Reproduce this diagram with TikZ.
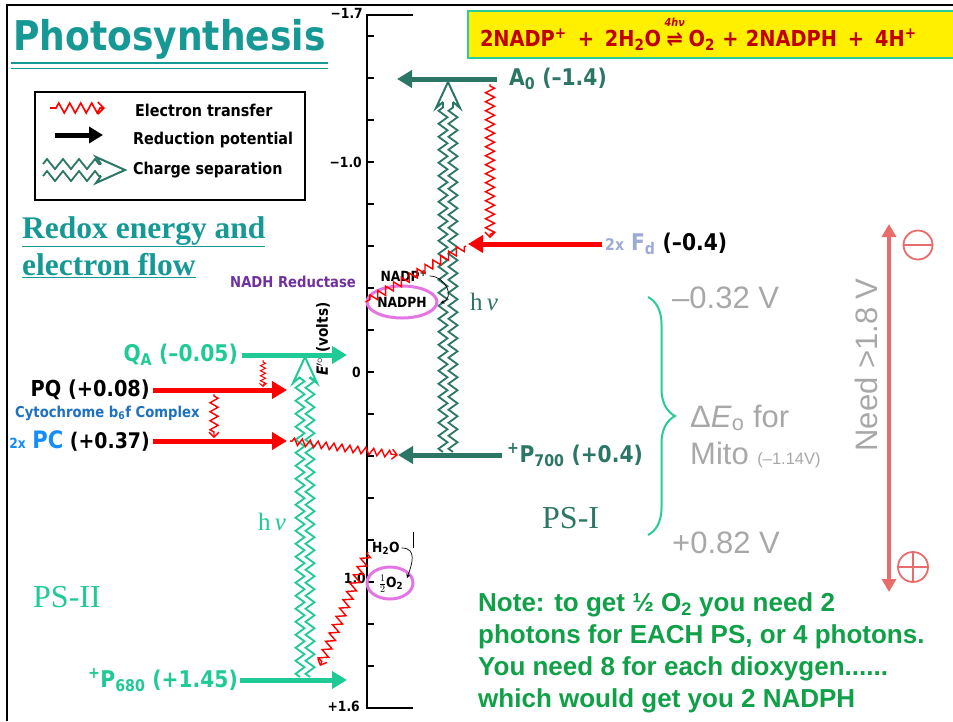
\documentclass[tikz,border=0pt]{standalone}
\usepackage{fontspec}
\setmainfont{Liberation Serif}
\setsansfont{Liberation Sans}
\newfontfamily\lucida[FakeStretch=0.88]{DejaVu Sans}
\usepackage{tikz}
\usetikzlibrary{positioning,arrows.meta,decorations.pathmorphing,decorations.pathreplacing,shapes.geometric,calc}

\definecolor{titleteal}{RGB}{22,152,148}
\definecolor{psone}{RGB}{44,118,102}
\definecolor{pstwo}{RGB}{32,202,150}
\definecolor{bracegreen}{RGB}{40,204,150}
\definecolor{eqred}{RGB}{192,0,0}
\definecolor{eqyellow}{RGB}{255,240,0}
\definecolor{ellmag}{RGB}{228,118,228}
\definecolor{nadhpurple}{RGB}{112,48,160}
\definecolor{cytblue}{RGB}{30,112,192}
\definecolor{pcblue}{RGB}{20,140,250}
\definecolor{fdblue}{RGB}{158,170,214}
\definecolor{mitogray}{RGB}{168,168,168}
\definecolor{needred}{RGB}{232,108,108}
\definecolor{notegreen}{RGB}{16,160,72}

\begin{document}
\begin{tikzpicture}[x=1pt,y=-1pt,>={Stealth[length=5pt]},
  lbl/.style={font=\lucida\bfseries\fontsize{23}{23}\selectfont,inner sep=0pt},
  smalllbl/.style={font=\lucida\bfseries\fontsize{15}{15}\selectfont,inner sep=0pt},
  leglbl/.style={font=\lucida\bfseries\fontsize{16.3}{16.3}\selectfont,inner sep=0pt,anchor=west},
  chem/.style={font=\lucida\bfseries\fontsize{14}{14}\selectfont,inner sep=0pt},
  axlbl/.style={font=\lucida\bfseries\fontsize{14}{14}\selectfont,inner sep=0pt,anchor=east},
  mitotxt/.style={font=\sffamily\fontsize{31}{37}\selectfont,text=mitogray,inner sep=0pt,anchor=west},
  serif/.style={font=\fontsize{32}{32}\selectfont,inner sep=0pt,anchor=base west},
  redpot/.style={line width=5pt,-{Triangle[length=15pt,width=17pt]}},
  etrans/.style={red,line width=1.4pt,decorate,
    decoration={zigzag,segment length=8pt,amplitude=3.5pt,pre length=2pt,post length=3pt},
    -{Straight Barb[length=5pt,width=10pt]}},
  chsep/.style={line width=1.8pt,decorate,decoration={zigzag,segment length=13pt,amplitude=4.5pt}},
  ellred/.style={ellipse,draw=ellmag,line width=3pt,inner sep=0pt},
]
\useasboundingbox (0,0) rectangle (953,721);
\draw[line width=2pt] (7,721) -- (7,5) -- (953,5);

% title and headings
\node (title) [anchor=base west,inner sep=0pt,text=titleteal,font=\lucida\bfseries\fontsize{41}{41}\selectfont] at (13,50) {Photosynthesis};
\draw[titleteal,line width=2.5pt] (11,63) -- (328,63);
\draw[titleteal,line width=1.2pt] (11,68.5) -- (328,68.5);
\node (redox) [anchor=base west,inner sep=0pt,text=titleteal,font=\bfseries\fontsize{31.5}{31.5}\selectfont] at (22,238) {\underline{Redox energy and}};
\node (flow) [anchor=base west,inner sep=0pt,text=titleteal,font=\bfseries\fontsize{31.5}{31.5}\selectfont] at (22,275) {\underline{electron flow}};

\node (eqn) [anchor=west,fill=eqyellow,draw=bracegreen,line width=2pt,minimum height=47pt,text width=478pt,inner xsep=12pt,text=eqred,font=\lucida\bfseries\fontsize{22}{22}\selectfont] at (467,34)
  {2NADP\textsuperscript{+} \,+\, 2H\textsubscript{2}O\,$\stackrel{\raisebox{4pt}{\mbox{\fontsize{11}{11}\selectfont\itshape 4hν}}}{\mbox{⇌}}$\,O\textsubscript{2} + 2NADPH \,+\, 4H\textsuperscript{+}};

% legend
\draw[line width=2pt] (35,92) rectangle (305,200);
\coordinate (lg1a) at (50,108); \coordinate (lg1b) at (105,108);
\draw[etrans,line width=1.6pt,decoration={zigzag,segment length=11pt,amplitude=5pt,pre length=6pt,post length=4pt},-{Straight Barb[length=6pt,width=12pt]}] (lg1a) -- (lg1b);
\node (lgt1) [leglbl] at (135,110) {Electron transfer};
\coordinate (lg2a) at (55,135); \coordinate (lg2b) at (103,135);
\draw[line width=5pt,-{Triangle[length=14pt,width=16pt]}] (lg2a) -- (lg2b);
\node (lgt2) [leglbl] at (133,140) {Reduction potential};
\coordinate (lg3) at (125,170);
\draw[chsep,psone,decoration={zigzag,segment length=16pt,amplitude=5pt}] (43,164) -- ($(lg3)+(-24,-6)$);
\draw[chsep,psone,decoration={zigzag,segment length=16pt,amplitude=5pt}] (43,176) -- ($(lg3)+(-24,6)$);
\draw[psone,line width=2pt] ($(lg3)+(-24,-6)$) -- ($(lg3)+(-29,-13)$) -- (lg3) -- ($(lg3)+(-29,13)$) -- ($(lg3)+(-24,6)$);
\node (lgt3) [leglbl] at (133,170) {Charge separation};

% potential axis
\draw[line width=1.3pt] (413,15) -- (367,15) -- (367,708) -- (413,708);
\foreach \k in {0,...,15} \draw[line width=1.1pt] (367,{36+42*\k}) -- ++(7,0);
\draw[line width=0.8pt] (413,532) -- (413,548);
\node (tm17) [axlbl] at (363,13) {−1.7};
\node (tm10) [axlbl] at (362,162) {−1.0};
\node (t0) [axlbl] at (361,372) {0};
\node (tp10) [axlbl] at (366,578) {1.0};
\node (tp16) [axlbl] at (360,706) {+1.6};
\node (evolt) [rotate=90,inner sep=0pt,font=\lucida\bfseries\fontsize{15.5}{15.5}\selectfont] at (323,339) {\textit{E}$'^{\circ}$ (volts)};

% photosystem I
\coordinate (a0t) at (497,79); \coordinate (a0h) at (397,79);
\draw[redpot,psone] (a0t) -- (a0h);
\node (a0) [lbl,text=psone,right=12pt of a0t] {A\textsubscript{0} (–1.4)};
\coordinate (p7t) at (502,455); \coordinate (p7h) at (398,455);
\draw[redpot,psone] (p7t) -- (p7h);
\node (p700) [lbl,text=psone,right=5pt of p7t] {\textsuperscript{+}P\textsubscript{700} (+0.4)};
\coordinate (cs1b) at (448,452); \coordinate (cs1t) at (448,82);
\draw[chsep,psone] ($(cs1b)+(-5,0)$) -- ($(cs1t)+(-5,20)$);
\draw[chsep,psone] ($(cs1b)+(5,0)$) -- ($(cs1t)+(5,20)$);
\draw[psone,line width=2pt] ($(cs1t)+(-5,20)$) -- ($(cs1t)+(-12,26)$) -- (cs1t) -- ($(cs1t)+(12,26)$) -- ($(cs1t)+(5,20)$);
\node (hv1) [serif,text=psone,font=\fontsize{25}{25}\selectfont] at (470,310) {h\,\textit{ν}};
\node (ps1) [serif,text=psone] at (542,528) {PS-I};

\coordinate (fdt) at (602,244); \coordinate (fdh) at (468,244);
\draw[redpot,red] (fdt) -- (fdh);
\node (fd) [lbl,right=3pt of fdt] {\textcolor{fdblue}{{\fontsize{16}{16}\selectfont 2x} F\textsubscript{d}} (–0.4)};
\coordinate (e1a) at (490,84); \coordinate (e1b) at (490,238);
\draw[etrans,decoration={zigzag,segment length=9pt,amplitude=4.5pt,pre length=2pt,post length=3pt}] (e1a) -- (e1b);

\node (nadph) [ellred,chem,minimum width=64pt,minimum height=32pt] at (402,302) {NADPH};
\node (nadp) [chem] at (404,276) {NADP\textsuperscript{+}};
\node (nadhr) [smalllbl,text=nadhpurple,anchor=west] at (230,282) {NADH Reductase};
\coordinate (e2a) at (466,246);
\draw[etrans,-,decoration={zigzag,segment length=9pt,amplitude=4pt}] (e2a) -- (nadph.west);
\draw[line width=0.7pt,-{Stealth[length=4pt,width=4pt]}] ($(nadp.east)+(2,0)$) to[out=0,in=20,looseness=1.4] ($(nadph.east)+(2,1)$);

% photosystem II
\coordinate (qat) at (242,355); \coordinate (qah) at (347,355);
\draw[redpot,pstwo] (qat) -- (qah);
\node (qa) [lbl,text=pstwo,left=4pt of qat] {Q\textsubscript{A} (–0.05)};
\coordinate (p6t) at (240,680); \coordinate (p6h) at (347,680);
\draw[redpot,pstwo] (p6t) -- (p6h);
\node (p680) [lbl,text=pstwo,left=2pt of p6t] {\textsuperscript{+}P\textsubscript{680} (+1.45)};
\coordinate (cs2b) at (305,677); \coordinate (cs2t) at (305,357);
\draw[chsep,pstwo] ($(cs2b)+(-5,0)$) -- ($(cs2t)+(-5,20)$);
\draw[chsep,pstwo] ($(cs2b)+(5,0)$) -- ($(cs2t)+(5,20)$);
\draw[pstwo,line width=2pt] ($(cs2t)+(-5,20)$) -- ($(cs2t)+(-12,26)$) -- (cs2t) -- ($(cs2t)+(12,26)$) -- ($(cs2t)+(5,20)$);
\node (hv2) [serif,text=pstwo,font=\fontsize{25}{25}\selectfont] at (258,530) {h\,\textit{ν}};
\node (ps2) [serif,text=pstwo] at (33,607) {PS-II};

\coordinate (pqt) at (153,390); \coordinate (pqh) at (287,390);
\draw[redpot,red] (pqt) -- (pqh);
\node (pq) [lbl,left=3pt of pqt,font=\lucida\bfseries\fontsize{22}{22}\selectfont] {PQ (+0.08)};
\coordinate (pct) at (153,441); \coordinate (pch) at (287,441);
\draw[redpot,red] (pct) -- (pch);
\node (pc) [lbl,left=3pt of pct,font=\lucida\bfseries\fontsize{21.5}{21.5}\selectfont] {\textcolor{pcblue}{{\fontsize{14}{14}\selectfont 2x} {\fontsize{24}{24}\selectfont PC}} (+0.37)};
\node (cyt) [smalllbl,text=cytblue,anchor=west] at (15,413) {Cytochrome b\textsubscript{6}f Complex};

\coordinate (e3a) at (263,360); \coordinate (e3b) at (263,387);
\draw[etrans,line width=1pt,decoration={zigzag,segment length=5pt,amplitude=2.5pt,pre length=2pt,post length=2pt},-{Straight Barb[length=3pt,width=7pt]}] (e3a) -- (e3b);
\coordinate (e4a) at (214,394); \coordinate (e4b) at (214,438);
\draw[etrans,decoration={zigzag,segment length=9pt,amplitude=4pt,pre length=2pt,post length=3pt}] (e4a) -- (e4b);
\coordinate (e5a) at (290,441);
\draw[etrans] (e5a) -- (p7h);

% water splitting
\node (halfo) [ellred,minimum width=46pt,minimum height=32pt] at (390,583) {};
\node (oxy) [chem] at (391,584) {$\frac{1}{2}$O\textsubscript{2}};
\node (water) [chem,anchor=west] at (372,548) {H\textsubscript{2}O};
\coordinate (o2tip) at (407,578);
\draw[line width=0.7pt,-{Stealth[length=4pt,width=4pt]}] ($(water.east)+(2,0)$) to[out=0,in=70,looseness=1.3] (o2tip);
\coordinate (e6a) at (368,552); \coordinate (e6b) at (320,666);
\draw[etrans,decoration={zigzag,segment length=9pt,amplitude=4.5pt,pre length=2pt,post length=3pt}] (e6a) -- (e6b);

% comparison with mitochondria
\draw[bracegreen,line width=2pt,decorate,decoration={brace,amplitude=27pt}] (648,297) -- (648,535);
\node (m32) [mitotxt] at (672,298) {–0.32 V};
\node (dEo) [mitotxt,align=left] at (690,436) {Δ\textit{E}\textsubscript{o} for\\Mito {\fontsize{16.5}{16.5}\selectfont(–1.14V)}};
\node (p82) [mitotxt] at (672,543) {+0.82 V};

\coordinate (needtop) at (889,224); \coordinate (needbot) at (889,592);
\draw[needred,line width=4pt,{Triangle[length=13pt,width=14pt]}-{Triangle[length=13pt,width=14pt]}] (needtop) -- (needbot);
\node (need) [rotate=90,inner sep=0pt,font=\sffamily\fontsize{31}{31}\selectfont,text=mitogray] at (866,365) {Need >1.8 V};
\node (minus) [circle,draw=needred,line width=1.8pt,minimum size=29pt,inner sep=0pt] at (918,245) {};
\draw[needred,line width=1.8pt] (minus.west) -- (minus.east);
\node (plus) [circle,draw=needred,line width=1.8pt,minimum size=30pt,inner sep=0pt] at (913,567) {};
\draw[needred,line width=1.8pt] (plus.west) -- (plus.east) (plus.north) -- (plus.south);

% note
\node (note) [anchor=north west,align=left,inner sep=0pt,text=notegreen,font=\sffamily\bfseries\fontsize{26}{32}\selectfont] at (478,592)
  {Note: to get ½ O\textsubscript{2} you need 2\\photons for EACH PS, or 4 photons.\\You need 8 for each dioxygen......\\which would get you 2 NADPH};
\end{tikzpicture}
\end{document}
